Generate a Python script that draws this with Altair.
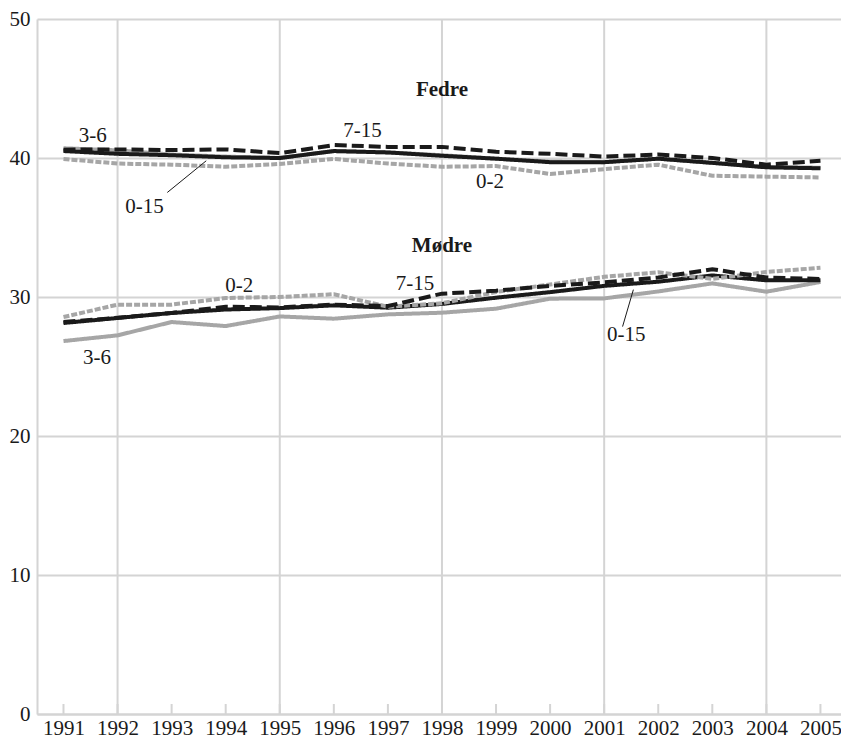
import altair as alt
import pandas as pd

years = list(range(1991, 2006))

fedre_0_15 = [40.5, 40.3, 40.2, 40.05, 40.0, 40.5, 40.4, 40.16, 39.95, 39.7, 39.7, 39.95, 39.65, 39.33, 39.26]
fedre_7_15 = [40.6, 40.62, 40.57, 40.62, 40.35, 40.93, 40.8, 40.8, 40.45, 40.3, 40.1, 40.25, 40.0, 39.52, 39.8]
fedre_0_2 = [39.93, 39.6, 39.52, 39.37, 39.57, 39.93, 39.6, 39.37, 39.42, 38.85, 39.2, 39.52, 38.72, 38.66, 38.6]
fedre_3_6 = [40.7, 40.55, 40.25, 40.1, 40.0, 40.5, 40.4, 40.2, 39.95, 39.75, 39.7, 39.95, 39.65, 39.35, 39.3]

modre_0_15 = [28.13, 28.49, 28.85, 29.1, 29.2, 29.4, 29.23, 29.5, 29.95, 30.35, 30.8, 31.1, 31.55, 31.2, 31.2]
modre_7_15 = [28.2, 28.5, 28.85, 29.3, 29.25, 29.45, 29.35, 30.24, 30.45, 30.8, 31.05, 31.4, 32.0, 31.4, 31.3]
modre_0_2 = [28.56, 29.45, 29.45, 29.93, 30.0, 30.2, 29.3, 29.55, 30.36, 30.9, 31.45, 31.78, 31.3, 31.8, 32.1]
modre_3_6 = [26.83, 27.24, 28.2, 27.91, 28.6, 28.44, 28.75, 28.87, 29.16, 29.88, 29.9, 30.4, 30.98, 30.38, 31.08]

grid_years = [1992, 1995, 1998, 2001, 2004]
y_ticks = [0, 10, 20, 30, 40, 50]

# annotations (data coordinates)
ann_text = ["Fedre", "Mødre", "3-6", "7-15", "0-2", "0-15", "0-2", "7-15", "3-6", "0-15"]
ann_x = [1998.0, 1998.0, 1991.54, 1996.53, 1998.89, 1992.5, 1994.25, 1997.5, 1991.62, 2001.41]
ann_y = [44.9, 33.7, 41.6, 41.95, 38.29, 36.49, 30.78, 30.93, 25.61, 27.25]
ann_bold = [True, True, False, False, False, False, False, False, False, False]

lead_x = [1992.92, 2001.34]
lead_y = [37.52, 27.87]
lead_x2 = [1993.64, 2001.54]
lead_y2 = [39.8, 30.53]

GRID = "#d4d4d4"
BLACK = "#1a1a1a"
GRAY = "#a6a6a6"
FONT = "Liberation Serif"

W, H = 804, 695
xscale = alt.Scale(domain=[1990.51, 2005.38], nice=False, zero=False)
yscale = alt.Scale(domain=[0, 50], nice=False)

series = {
    "3-6": (fedre_3_6, modre_3_6),
    "0-15": (fedre_0_15, modre_0_15),
    "0-2": (fedre_0_2, modre_0_2),
    "7-15": (fedre_7_15, modre_7_15),
}
rows = []
for age, (f, m) in series.items():
    for yr, v in zip(years, f):
        rows.append({"year": yr, "value": v, "group": "Fedre", "age": age})
    for yr, v in zip(years, m):
        rows.append({"year": yr, "value": v, "group": "Mødre", "age": age})
df = pd.DataFrame(rows)

styles = {
    "3-6": dict(color=GRAY, strokeDash=[1, 0]),
    "0-15": dict(color=BLACK, strokeDash=[1, 0]),
    "0-2": dict(color=GRAY, strokeDash=[6, 2]),
    "7-15": dict(color=BLACK, strokeDash=[12, 5]),
}

base_axes = alt.Chart(pd.DataFrame({"year": years, "value": [0] * len(years)})).mark_point(opacity=0).encode(
    x=alt.X("year:Q", scale=xscale,
            axis=alt.Axis(values=years, format="d", grid=False, ticks=False, domainColor=GRID,
                          domainWidth=2, labelFontSize=21, labelPadding=3, labelFont=FONT,
                          labelColor=BLACK, labelOverlap=False, labelFlush=False, title=None)),
    y=alt.Y("value:Q", scale=yscale,
            axis=alt.Axis(values=y_ticks, grid=True, gridColor=GRID, gridWidth=2, domainColor=GRID,
                          domainWidth=2, ticks=False, labelFontSize=21, labelPadding=7, labelFont=FONT,
                          labelColor=BLACK, title=None)),
)

vgrid = alt.Chart(pd.DataFrame({"year": grid_years})).mark_rule(color=GRID, strokeWidth=2).encode(
    x=alt.X("year:Q", scale=xscale), y=alt.value(0), y2=alt.value(H)
)

inticks = alt.Chart(pd.DataFrame({"year": years})).mark_rule(color=GRID, strokeWidth=2).encode(
    x=alt.X("year:Q", scale=xscale), y=alt.value(H), y2=alt.value(H - 10)
)

line_layers = []
for age, st in styles.items():
    line_layers.append(
        alt.Chart(df[df["age"] == age]).mark_line(
            color=st["color"], strokeDash=st["strokeDash"], strokeWidth=4, strokeJoin="miter",
            strokeCap="butt"
        ).encode(
            x=alt.X("year:Q", scale=xscale),
            y=alt.Y("value:Q", scale=yscale),
            detail="group:N",
        )
    )

ann_df = pd.DataFrame({"text": ann_text, "x": ann_x, "y": ann_y, "bold": ann_bold})
ann_normal = alt.Chart(ann_df[~ann_df["bold"]]).mark_text(
    font=FONT, fontSize=21, color=BLACK, align="center", baseline="middle"
).encode(x=alt.X("x:Q", scale=xscale), y=alt.Y("y:Q", scale=yscale), text="text:N")
ann_bold_layer = alt.Chart(ann_df[ann_df["bold"]]).mark_text(
    font=FONT, fontSize=21, fontWeight="bold", color=BLACK, align="center", baseline="middle"
).encode(x=alt.X("x:Q", scale=xscale), y=alt.Y("y:Q", scale=yscale), text="text:N")

leaders = alt.Chart(pd.DataFrame({"x": lead_x, "y": lead_y, "x2": lead_x2, "y2": lead_y2})).mark_rule(
    color=BLACK, strokeWidth=1
).encode(x=alt.X("x:Q", scale=xscale), y=alt.Y("y:Q", scale=yscale), x2="x2:Q", y2="y2:Q")

chart = alt.layer(
    base_axes, vgrid, inticks, *line_layers, leaders, ann_normal, ann_bold_layer
).properties(
    width=W, height=H,
    autosize=alt.AutoSizeParams(type="none"),
    padding={"left": 29, "top": 11, "right": 0, "bottom": 28},
    background="white",
).configure_view(stroke=None)

chart.save("out.html", embed_options={"renderer": "svg", "actions": False})
